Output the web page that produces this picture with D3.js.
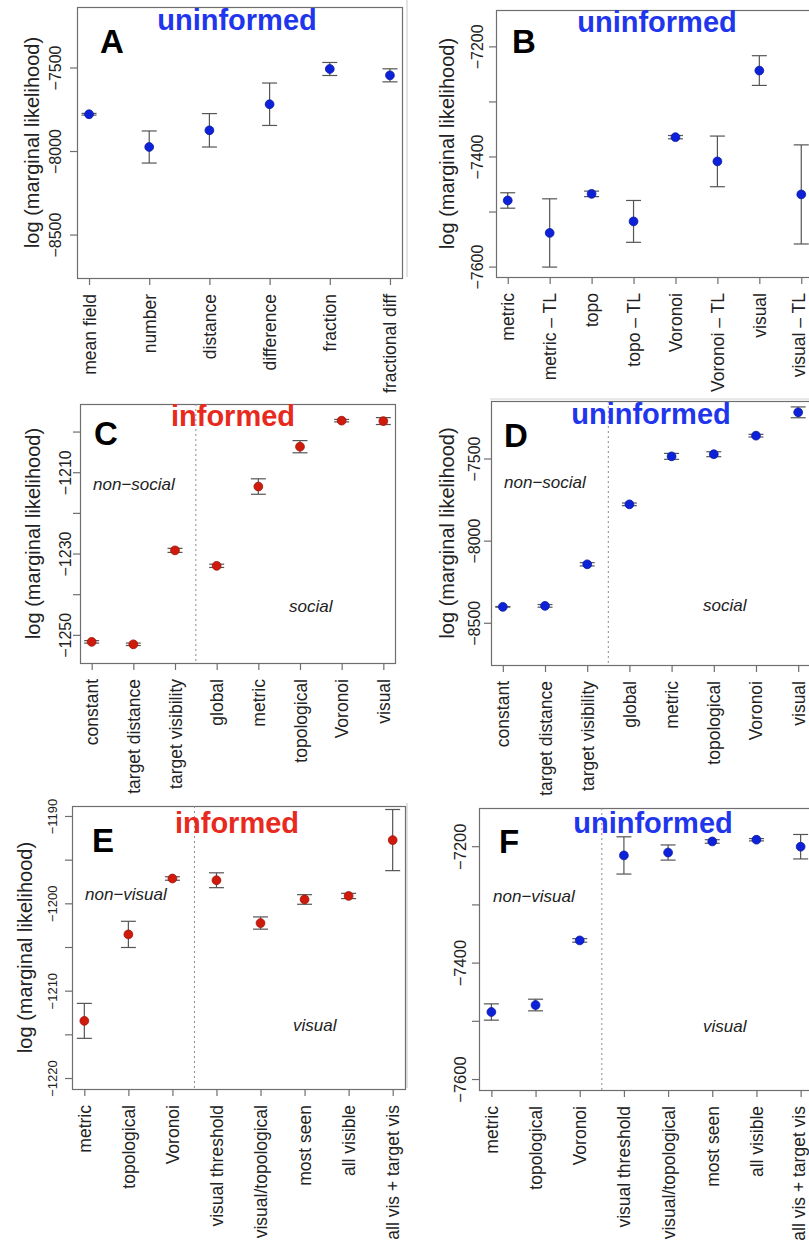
<!DOCTYPE html>
<html><head><meta charset="utf-8">
<script src="https://cdn.jsdelivr.net/npm/d3@7"></script>
<style>
body{margin:0;background:#fff}
svg{display:block}
text{font-family:"Liberation Sans",Arial,Helvetica,sans-serif}
</style>
</head><body>
<svg id="c" width="809" height="1247"></svg>
<script>
// ---------- DATA ----------
const catsA = ["mean field","number","distance","difference","fraction","fractional diff"];
const valsA = [-7777,-7973,-7873,-7717,-7506,-7544];
const errsA = [5,96,100,127,39,39];
const ticksA = [-7500,-8000,-8500];
const tickLabelsA = ["−7500","−8000","−8500"];

const catsB = ["metric","metric – TL","topo","topo – TL","Voronoi","Voronoi – TL","visual","visual – TL"];
const valsB = [-7479,-7538,-7467,-7517,-7364,-7408,-7243,-7468];
const errsB = [14,62,5,38,3,46,27,90];
const ticksB = [-7200,-7300,-7400,-7500,-7600];
const tickLabelsB = ["−7200","","−7400","","−7600"];

const catsC = ["constant","target distance","target visibility","global","metric","topological","Voronoi","visual"];
const valsC = [-1251.6,-1252.2,-1229.1,-1232.9,-1213.4,-1203.6,-1197.2,-1197.3];
const errsC = [0.3,0.3,0.5,0.4,1.9,1.5,0.3,0.85];
const ticksC = [-1200,-1210,-1220,-1230,-1240,-1250];
const tickLabelsC = ["","−1210","","−1230","","−1250"];

const catsD = ["constant","target distance","target visibility","global","metric","topological","Voronoi","visual"];
const valsD = [-8400,-8394,-8141,-7776,-7484,-7471,-7358,-7216];
const errsD = [2,8,10,8,18,15,8,33];
const ticksD = [-7500,-8000,-8500];
const tickLabelsD = ["−7500","−8000","−8500"];

const catsE = ["metric","topological","Voronoi","visual threshold","visual/topological","most seen","all visible","all vis + target vis"];
const valsE = [-1213.4,-1203.5,-1197.1,-1197.3,-1202.2,-1199.5,-1199.1,-1192.7];
const errsE = [2.0,1.5,0.2,0.85,0.7,0.55,0.3,3.5];
const ticksE = [-1190,-1195,-1200,-1205,-1210,-1215,-1220];
const tickLabelsE = ["−1190","","−1200","","−1210","","−1220"];

const catsF = ["metric","topological","Voronoi","visual threshold","visual/topological","most seen","all visible","all vis + target vis"];
const valsF = [-7484,-7472,-7361,-7215,-7210,-7191,-7188,-7200];
const errsF = [14,10,3,32,13,3,2,21];
const ticksF = [-7200,-7300,-7400,-7500,-7600];
const tickLabelsF = ["−7200","","−7400","","−7600"];

const yLabel = "log (marginal likelihood)";
const titleInf = "informed", titleUninf = "uninformed";

// ---------- LAYOUT ----------
const W = 809;
const BLUE = "#0d22d8", BLUE_T = "#1f36ec", RED = "#d01a0c", RED_T = "#e8291d";
const panels = [
 {cats:catsA, vals:valsA, errs:errsA, ticks:ticksA, tl:tickLabelsA, L:77, T:7, R:402, B:278, dom:[-8757,-7135],
  tlOff:22, alOff:45, title:titleUninf, tc:BLUE_T, tx:237, ty:30, letter:"A", lx:100, ly:53, col:BLUE, tfs:16, sep:null, groups:[]},
 {cats:catsB, vals:valsB, errs:errsB, ticks:ticksB, tl:tickLabelsB, L:496, T:10, R:813, B:277, dom:[-7618,-7133],
  tlOff:19, alOff:49, title:titleUninf, tc:BLUE_T, tx:657, ty:32, letter:"B", lx:512, ly:53, col:BLUE, tfs:16, sep:null, groups:[]},
 {cats:catsC, vals:valsC, errs:errsC, ticks:ticksC, tl:tickLabelsC, L:80, T:404, R:395, B:663, dom:[-1256.8,-1193.1],
  tlOff:15, alOff:47, title:titleInf, tc:RED_T, tx:233, ty:426, letter:"C", lx:94, ly:445, col:RED, tfs:16, sep:3.5,
  groups:[{t:"non−social", x:93, y:490},{t:"social", x:289, y:612}]},
 {cats:catsD, vals:valsD, errs:errsD, ticks:ticksD, tl:tickLabelsD, L:491, T:401, R:810, B:665, dom:[-8754,-7147],
  tlOff:17, alOff:44, title:titleUninf, tc:BLUE_T, tx:651, ty:424, letter:"D", lx:504, ly:447, col:BLUE, tfs:16, sep:3.5,
  groups:[{t:"non−social", x:504, y:488},{t:"social", x:703, y:611}]},
 {cats:catsE, vals:valsE, errs:errsE, ticks:ticksE, tl:tickLabelsE, L:72, T:806, R:405, B:1089, dom:[-1221.2,-1188.8],
  tlOff:20, alOff:47, title:titleInf, tc:RED_T, tx:237, ty:833, letter:"E", lx:92, ly:852, col:RED, tfs:13, sep:3.5,
  groups:[{t:"non−visual", x:85, y:900},{t:"visual", x:293, y:1031}]},
 {cats:catsF, vals:valsF, errs:errsF, ticks:ticksF, tl:tickLabelsF, L:479, T:808, R:813, B:1090, dom:[-7618,-7133.5],
  tlOff:19, alOff:null, title:titleUninf, tc:BLUE_T, tx:653, ty:833, letter:"F", lx:499, ly:853, col:BLUE, tfs:16.5, sep:3.5,
  groups:[{t:"non−visual", x:493, y:902},{t:"visual", x:703, y:1032}]}
];

const svg = d3.select("#c");
svg.append("rect").attr("width",W).attr("height",1247).attr("fill","#fff");

// faint frame lines of neighbouring figure panels
svg.append("line").attr("x1",407).attr("x2",407).attr("y1",0).attr("y2",277).attr("stroke","#c8c8c8");
svg.append("line").attr("x1",490).attr("x2",809).attr("y1",399).attr("y2",399).attr("stroke","#d0d0d0");
svg.append("line").attr("x1",407).attr("x2",407).attr("y1",803).attr("y2",1088).attr("stroke","#c8c8c8");

const XFS = 17.5;
panels.forEach(p => {
  const n = p.cats.length, ext = (n-1)*0.04;
  const x = d3.scaleLinear().domain([1-ext, n+ext]).range([p.L, p.R]);
  const y = d3.scaleLinear().domain(p.dom).range([p.B, p.T]);
  const g = svg.append("g");

  // box
  g.append("rect").attr("x",p.L+0.5).attr("y",p.T+0.5).attr("width",p.R-p.L).attr("height",p.B-p.T)
    .attr("fill","none").attr("stroke","#6e6e6e").attr("stroke-width",1.2);

  // separator
  if (p.sep !== null) {
    g.append("line").attr("x1",x(p.sep)).attr("x2",x(p.sep)).attr("y1",p.T).attr("y2",p.B)
      .attr("stroke","#8a8a8a").attr("stroke-width",1).attr("stroke-dasharray","2,3");
  }

  // y axis
  const yAx = d3.axisLeft(y).tickValues(p.ticks).tickSize(7).tickFormat((d,i)=>p.tl[i]);
  const ya = g.append("g").attr("transform",`translate(${p.L},0)`).call(yAx);
  ya.attr("font-size",null).attr("font-family",null);
  ya.select(".domain").remove();
  ya.selectAll(".tick").attr("transform",null);
  ya.selectAll(".tick line").attr("stroke","#6e6e6e").attr("stroke-width",1.2)
    .each(function(d){ d3.select(this).attr("y1",y(d)).attr("y2",y(d)); });
  ya.selectAll(".tick text").each(function(d){
      d3.select(this).attr("x",0).attr("dy",null)
       .attr("transform",`translate(${-p.tlOff},${y(d)}) rotate(-90)`)
       .attr("text-anchor","middle").attr("dominant-baseline","central")
       .style("font-size",p.tfs+"px").attr("fill","#222");
    });

  // x axis
  const xAx = d3.axisBottom(x).tickValues(d3.range(1,n+1)).tickSize(7).tickFormat((d)=>p.cats[d-1]);
  const xa = g.append("g").attr("transform",`translate(0,${p.B})`).call(xAx);
  xa.attr("font-size",null).attr("font-family",null);
  xa.select(".domain").remove();
  xa.selectAll("line").attr("stroke","#6e6e6e").attr("stroke-width",1.2);
  xa.selectAll(".tick").each(function(d){
    const tx = x(d);
    const shift = Math.min(0, (W - 1 - XFS*0.55) - tx);   // keep edge labels inside the picture
    d3.select(this).select("text").attr("y",0).attr("dy",null)
      .attr("transform",`translate(${shift},16) rotate(-90)`)
      .attr("text-anchor","end").attr("dominant-baseline","central")
      .style("font-size",XFS+"px").attr("fill","#222");
  });

  // y label
  if (p.alOff !== null) {
    g.append("text").attr("transform",`translate(${p.L-p.alOff},${(p.T+p.B)/2}) rotate(-90)`)
      .attr("text-anchor","middle").attr("dominant-baseline","central")
      .style("font-size","20px").attr("fill","#222").text(yLabel);
  }

  // title & letter
  g.append("text").attr("x",p.tx).attr("y",p.ty).attr("text-anchor","middle")
    .style("font-size","29px").attr("font-weight","bold").attr("fill",p.tc).text(p.title);
  g.append("text").attr("x",p.lx).attr("y",p.ly)
    .style("font-size","33px").attr("font-weight","bold").attr("fill","#000").text(p.letter);

  p.groups.forEach(gr => {
    g.append("text").attr("x",gr.x).attr("y",gr.y).style("font-size","17px").attr("font-style","italic")
      .attr("fill","#222").text(gr.t);
  });

  // error bars
  const eb = g.append("g").attr("stroke","#555").attr("stroke-width",1.2);
  p.vals.forEach((v,i) => {
    const cx = x(i+1), e = p.errs[i];
    eb.append("line").attr("x1",cx).attr("x2",cx).attr("y1",y(v-e)).attr("y2",y(v+e));
    eb.append("line").attr("x1",cx-7.5).attr("x2",cx+7.5).attr("y1",y(v-e)).attr("y2",y(v-e));
    eb.append("line").attr("x1",cx-7.5).attr("x2",cx+7.5).attr("y1",y(v+e)).attr("y2",y(v+e));
  });
  // points
  g.selectAll("circle.pt").data(p.vals).join("circle").attr("class","pt")
    .attr("cx",(d,i)=>x(i+1)).attr("cy",d=>y(d)).attr("r",4.4)
    .attr("fill",p.col).attr("stroke",d3.color(p.col).darker(0.8)).attr("stroke-width",0.8);
});
</script>
</body></html>
